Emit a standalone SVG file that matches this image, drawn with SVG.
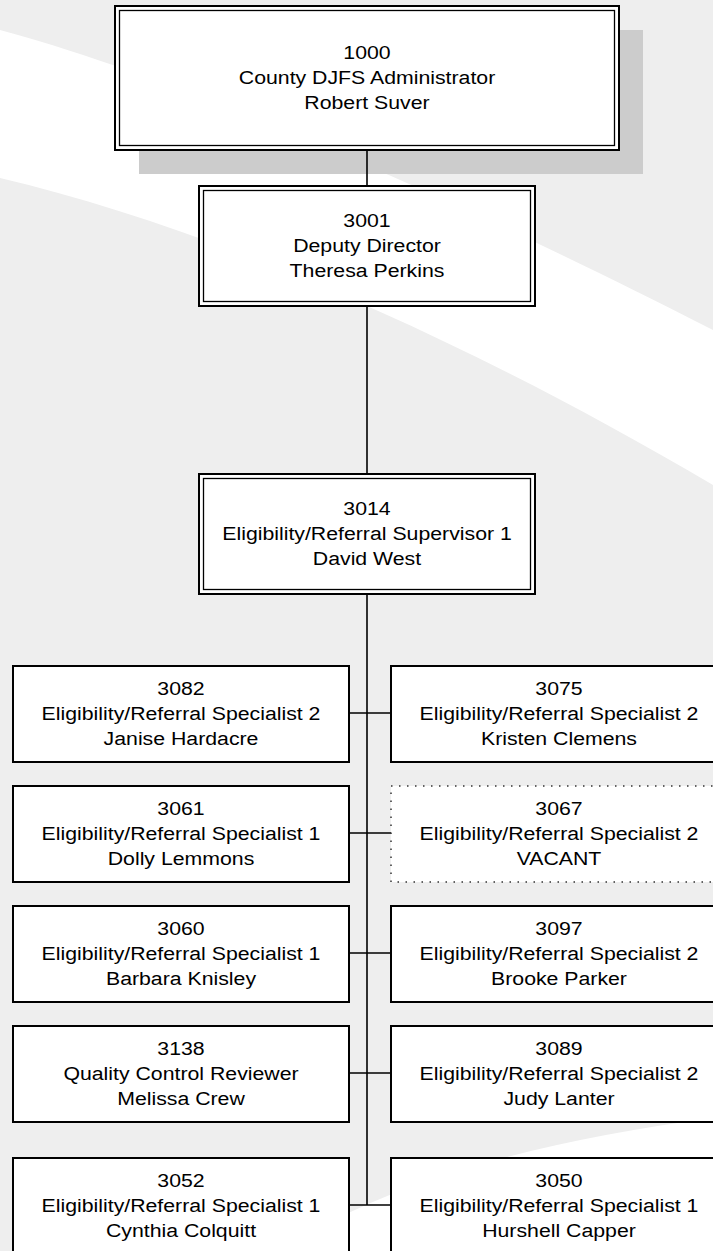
<svg xmlns="http://www.w3.org/2000/svg" width="713" height="1251" viewBox="0 0 713 1251">
<style>
.box{fill:#ffffff;stroke:#000000;stroke-width:2}
.inner{fill:none;stroke:#000000;stroke-width:1.3}
.vac{fill:#ffffff;stroke:#333333;stroke-width:1.5;stroke-dasharray:1.5 6.5}
.conn{fill:none;stroke:#000000;stroke-width:1.6}
.t{font-family:"Liberation Sans",Arial,Helvetica,sans-serif;font-size:19px;fill:#000000;text-anchor:middle}
</style>
<rect x="0" y="0" width="713" height="1251" fill="#eeeeee"/>
<path d="M0,30 C150,70 400,170 713,330 L713,485 C450,330 200,225 0,178 Z" fill="#ffffff"/>
<path d="M330,1222 Q470,1150 713,1118 L713,1251 L330,1251 Z" fill="#ffffff"/>
<rect x="139" y="30" width="504" height="144" fill="#cccccc"/>
<g id="connectors">
<line class="conn" x1="367" y1="150" x2="367" y2="186"/>
<line class="conn" x1="367" y1="306" x2="367" y2="474"/>
<line class="conn" x1="367" y1="594" x2="367" y2="1205"/>
<line class="conn" x1="349" y1="713" x2="391" y2="713"/>
<line class="conn" x1="349" y1="833" x2="391" y2="833"/>
<line class="conn" x1="349" y1="953" x2="391" y2="953"/>
<line class="conn" x1="349" y1="1073" x2="391" y2="1073"/>
<line class="conn" x1="349" y1="1205" x2="391" y2="1205"/>
</g>
<g id="n1000">
<rect class="box" x="115" y="6" width="504" height="144"/>
<rect class="inner" x="119.5" y="10.5" width="495" height="135"/>
<g transform="translate(367 0) scale(1.12 1)"><text class="t"><tspan x="0" y="59">1000</tspan><tspan x="0" y="84">County DJFS Administrator</tspan><tspan x="0" y="109">Robert Suver</tspan></text></g>
</g>
<g id="n3001">
<rect class="box" x="199" y="186" width="336" height="120"/>
<rect class="inner" x="203.5" y="190.5" width="327" height="111"/>
<g transform="translate(367 0) scale(1.12 1)"><text class="t"><tspan x="0" y="227">3001</tspan><tspan x="0" y="252">Deputy Director</tspan><tspan x="0" y="277">Theresa Perkins</tspan></text></g>
</g>
<g id="n3014">
<rect class="box" x="199" y="474" width="336" height="120"/>
<rect class="inner" x="203.5" y="478.5" width="327" height="111"/>
<g transform="translate(367 0) scale(1.12 1)"><text class="t"><tspan x="0" y="515">3014</tspan><tspan x="0" y="540">Eligibility/Referral Supervisor 1</tspan><tspan x="0" y="565">David West</tspan></text></g>
</g>
<g id="n3082">
<rect class="box" x="13" y="666" width="336" height="96"/>
<g transform="translate(181 0) scale(1.12 1)"><text class="t"><tspan x="0" y="695">3082</tspan><tspan x="0" y="720">Eligibility/Referral Specialist 2</tspan><tspan x="0" y="745">Janise Hardacre</tspan></text></g>
</g>
<g id="n3075">
<rect class="box" x="391" y="666" width="336" height="96"/>
<g transform="translate(559 0) scale(1.12 1)"><text class="t"><tspan x="0" y="695">3075</tspan><tspan x="0" y="720">Eligibility/Referral Specialist 2</tspan><tspan x="0" y="745">Kristen Clemens</tspan></text></g>
</g>
<g id="n3061">
<rect class="box" x="13" y="786" width="336" height="96"/>
<g transform="translate(181 0) scale(1.12 1)"><text class="t"><tspan x="0" y="815">3061</tspan><tspan x="0" y="840">Eligibility/Referral Specialist 1</tspan><tspan x="0" y="865">Dolly Lemmons</tspan></text></g>
</g>
<g id="n3067">
<rect class="vac" x="391" y="786" width="336" height="96"/>
<g transform="translate(559 0) scale(1.12 1)"><text class="t"><tspan x="0" y="815">3067</tspan><tspan x="0" y="840">Eligibility/Referral Specialist 2</tspan><tspan x="0" y="865">VACANT</tspan></text></g>
</g>
<g id="n3060">
<rect class="box" x="13" y="906" width="336" height="96"/>
<g transform="translate(181 0) scale(1.12 1)"><text class="t"><tspan x="0" y="935">3060</tspan><tspan x="0" y="960">Eligibility/Referral Specialist 1</tspan><tspan x="0" y="985">Barbara Knisley</tspan></text></g>
</g>
<g id="n3097">
<rect class="box" x="391" y="906" width="336" height="96"/>
<g transform="translate(559 0) scale(1.12 1)"><text class="t"><tspan x="0" y="935">3097</tspan><tspan x="0" y="960">Eligibility/Referral Specialist 2</tspan><tspan x="0" y="985">Brooke Parker</tspan></text></g>
</g>
<g id="n3138">
<rect class="box" x="13" y="1026" width="336" height="96"/>
<g transform="translate(181 0) scale(1.12 1)"><text class="t"><tspan x="0" y="1055">3138</tspan><tspan x="0" y="1080">Quality Control Reviewer</tspan><tspan x="0" y="1105">Melissa Crew</tspan></text></g>
</g>
<g id="n3089">
<rect class="box" x="391" y="1026" width="336" height="96"/>
<g transform="translate(559 0) scale(1.12 1)"><text class="t"><tspan x="0" y="1055">3089</tspan><tspan x="0" y="1080">Eligibility/Referral Specialist 2</tspan><tspan x="0" y="1105">Judy Lanter</tspan></text></g>
</g>
<g id="n3052">
<rect class="box" x="13" y="1158" width="336" height="96"/>
<g transform="translate(181 0) scale(1.12 1)"><text class="t"><tspan x="0" y="1187">3052</tspan><tspan x="0" y="1212">Eligibility/Referral Specialist 1</tspan><tspan x="0" y="1237">Cynthia Colquitt</tspan></text></g>
</g>
<g id="n3050">
<rect class="box" x="391" y="1158" width="336" height="96"/>
<g transform="translate(559 0) scale(1.12 1)"><text class="t"><tspan x="0" y="1187">3050</tspan><tspan x="0" y="1212">Eligibility/Referral Specialist 1</tspan><tspan x="0" y="1237">Hurshell Capper</tspan></text></g>
</g>
</svg>
